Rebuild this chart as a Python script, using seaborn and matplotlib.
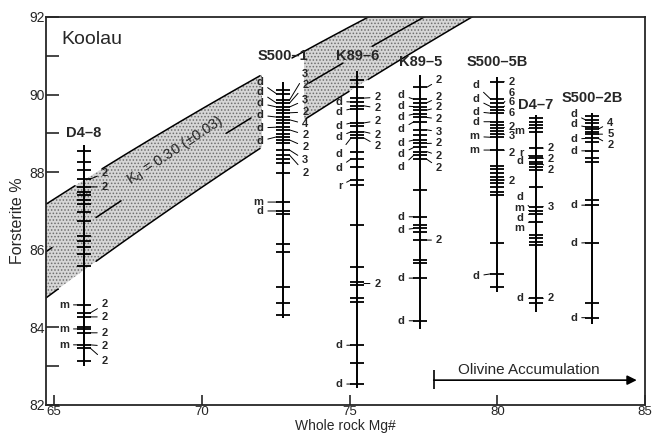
import numpy as np
import pandas as pd
import seaborn as sns
import matplotlib.pyplot as plt
from matplotlib.ticker import MultipleLocator

sns.set_style('ticks')
plt.rcParams['font.family'] = ['Liberation Sans', 'DejaVu Sans']
plt.rcParams['hatch.linewidth'] = 0.7

# olivine-melt equilibrium band
kd_values = [0.27, 0.30, 0.33]

# samples: name, whole rock Mg#, extent of the vertical bar
col_names = ['D4–8', 'S500–1', 'K89–6', 'K89–5', 'S500–5B', 'D4–7', 'S500–2B']
col_mg = [66.0, 72.75, 75.27, 77.4, 80.0, 81.3, 83.2]
col_top = [88.7, 90.33, 90.6, 90.5, 90.45, 89.47, 89.53]
col_bottom = [83.0, 84.24, 82.45, 83.95, 84.9, 84.4, 84.08]
title_fo = [89.0, 91.0, 91.0, 90.85, 90.85, 89.73, 89.92]

# olivine forsterite contents
d48_fo = [88.55, 88.26, 88.06, 87.82, 87.62, 87.49, 87.41, 87.28, 87.18, 86.97, 86.74,
          86.36, 86.23, 86.07, 85.89, 85.58, 84.58, 84.37, 84.27, 84.01, 83.96, 83.86,
          83.55, 83.47, 83.14]
s5001_fo = [90.12, 90.02, 89.86, 89.78, 89.68, 89.60, 89.53, 89.42, 89.35, 89.27, 89.16,
            89.09, 88.98, 88.91, 88.83, 88.75, 88.57, 88.44, 88.34, 88.24, 87.98, 87.23,
            87.0, 86.92, 86.15, 85.94, 85.04, 84.63, 84.32]
k896_fo = [90.38, 90.2, 89.91, 89.81, 89.71, 89.63, 89.27, 89.19, 89.04, 88.96, 88.88,
           88.52, 88.34, 88.13, 87.80, 87.67, 86.64, 85.56, 85.17, 85.09, 84.76, 84.65,
           83.54, 83.08, 82.54]
k895_fo = [90.19, 89.88, 89.79, 89.69, 89.60, 89.50, 89.41, 89.30, 89.09, 88.96, 88.83,
           88.74, 88.64, 88.53, 88.44, 88.33, 87.54, 86.85, 86.64, 86.55, 86.47, 86.25,
           85.74, 85.67, 85.27, 84.17]
s5005b_fo = [90.33, 89.88, 89.79, 89.69, 89.59, 89.52, 89.30, 89.22, 89.15, 89.07, 88.98,
             88.90, 88.57, 88.16, 88.07, 87.97, 87.88, 87.80, 87.71, 87.63, 87.50, 87.41,
             86.18, 85.38, 85.05]
d47_fo = [89.39, 89.30, 89.22, 89.13, 89.04, 88.62, 88.42, 88.36, 88.27, 88.21, 88.14,
          88.06, 87.63, 87.11, 87.01, 86.92, 86.72, 86.38, 86.30, 86.21, 86.12, 84.75, 84.62]
s5002b_fo = [89.45, 89.35, 89.26, 89.17, 89.11, 89.04, 88.98, 88.87, 88.79, 88.55, 88.36,
             88.27, 87.28, 87.15, 86.18, 84.62, 84.25]
col_fo = [d48_fo, s5001_fo, k896_fo, k895_fo, s5005b_fo, d47_fo, s5002b_fo]

# labels: (tick Fo, label Fo, text)
d48_left = [(84.58, 84.58, 'm'), (83.96, 83.96, 'm'), (83.55, 83.55, 'm')]
d48_right = [(87.82, 87.98, '2'), (87.62, 87.62, '2'), (84.37, 84.6, '2'), (84.27, 84.27, '2'),
             (83.86, 83.86, '2'), (83.55, 83.52, '2'), (83.47, 83.13, '2')]
s5001_left = [(90.02, 90.32, 'd'), (89.78, 90.07, 'd'), (89.68, 89.78, 'd'), (89.42, 89.47, 'd'),
              (89.16, 89.14, 'd'), (88.91, 88.80, 'd'), (87.23, 87.23, 'm'), (87.0, 87.0, 'd')]
s5001_right = [(89.86, 90.53, '3'), (89.78, 90.25, '2'), (89.68, 89.86, '3'), (89.53, 89.55, '2'),
               (89.35, 89.24, '4'), (89.09, 88.96, '2'), (88.83, 88.65, '2'), (88.57, 88.31, '3'),
               (88.44, 87.98, '2')]
k896_left = [(89.81, 89.82, 'd'), (89.63, 89.56, 'd'), (89.27, 89.19, 'd'), (89.04, 88.91, 'd'),
             (88.88, 88.47, 'd'), (88.34, 88.11, 'd'), (87.80, 87.65, 'r'), (83.54, 83.54, 'd'),
             (82.54, 82.54, 'd')]
k896_right = [(89.91, 89.93, '2'), (89.71, 89.65, '2'), (89.27, 89.33, '2'), (89.04, 88.96, '2'),
              (88.88, 88.68, '2'), (85.13, 85.13, '2')]
k895_left = [(89.88, 89.99, 'd'), (89.69, 89.71, 'd'), (89.50, 89.42, 'd'), (89.30, 89.11, 'd'),
             (88.83, 88.75, 'd'), (88.64, 88.47, 'd'), (88.44, 88.13, 'd'), (86.85, 86.85, 'd'),
             (86.55, 86.51, 'd'), (85.27, 85.27, 'd'), (84.17, 84.17, 'd')]
k895_right = [(90.19, 90.38, '2'), (89.79, 89.94, '2'), (89.60, 89.68, '2'), (89.41, 89.37, '2'),
              (89.09, 89.04, '3'), (88.74, 88.75, '2'), (88.53, 88.42, '2'), (88.33, 88.11, '2'),
              (86.25, 86.25, '2')]
s5005b_left = [(89.88, 90.25, 'd'), (89.69, 89.88, 'd'), (89.52, 89.56, 'd'), (89.30, 89.30, 'd'),
               (88.90, 88.92, 'm'), (88.57, 88.57, 'm'), (85.38, 85.32, 'd')]
s5005b_right = [(90.33, 90.33, '2'), (89.79, 90.04, '6'), (89.69, 89.82, '6'), (89.59, 89.53, '6'),
                (89.15, 89.17, '2'), (88.98, 88.92, '3'), (88.57, 88.50, '2'), (87.80, 87.76, '2')]
d47_left = [(89.13, 89.05, 'm'), (88.42, 88.50, 'r'), (88.36, 88.28, 'd'), (87.11, 87.37, 'd'),
            (87.01, 87.08, 'm'), (86.92, 86.82, 'd'), (86.72, 86.55, 'm'), (84.75, 84.75, 'd')]
d47_right = [(88.62, 88.62, '2'), (88.36, 88.34, '2'), (88.21, 88.06, '2'), (87.11, 87.11, '3'),
             (84.75, 84.75, '2')]
s5002b_left = [(89.35, 89.50, 'd'), (89.17, 89.23, 'd'), (88.87, 88.85, 'd'), (88.55, 88.55, 'd'),
               (87.15, 87.15, 'd'), (86.18, 86.17, 'd'), (84.25, 84.25, 'd')]
s5002b_right = [(89.11, 89.28, '4'), (88.98, 88.98, '5'), (88.87, 88.70, '2')]
col_left = [d48_left, s5001_left, k896_left, k895_left, s5005b_left, d47_left, s5002b_left]
col_right = [d48_right, s5001_right, k896_right, k895_right, s5005b_right, d47_right, s5002b_right]

# layout
left_x = [65.5, 72.08, 74.75, 76.86, 79.39, 80.9, 82.7]
right_x = [66.62, 73.4, 75.85, 77.93, 80.4, 81.72, 83.72]
half = 0.22
band_gaps = [[(65.72, 66.62), (72.0, 73.05)],
             [(64.95, 66.4), (67.3, 70.8), (71.7, 73.6), (74.8, 75.75)],
             [(65.15, 66.4), (72.0, 73.5), (75.0, 75.6)]]


def fo_eq(mg, kd):
    return 100.0 / (1.0 + kd * (100.0 - mg) / mg)


fig = plt.figure(figsize=(6.52, 4.33), dpi=100)
ax = fig.add_axes([0.0706, 0.0647, 0.9187, 0.8961])
ax.set_xlim(64.73, 85.0)
ax.set_ylim(82, 92)

# Kd band
mg_grid = np.linspace(64.73, 85.0, 600)
ax.fill_between(mg_grid, fo_eq(mg_grid, kd_values[2]), fo_eq(mg_grid, kd_values[0]),
                facecolor='#d6d6d6', edgecolor='#6e6e6e', hatch='.....', linewidth=0, zorder=1)
for kd, gaps in zip(kd_values, band_gaps):
    y = fo_eq(mg_grid, kd)
    for a, b in gaps:
        y[(mg_grid > a) & (mg_grid < b)] = np.nan
    ax.plot(mg_grid, y, color='black', lw=1.1, zorder=2)
# white out behind the S500-1 labels
ax.fill_between([72.05, 73.45], 88.45, 91.4, color='white', lw=0, zorder=1.5)

ax.text(69.1, 88.57, r'K$_\mathregular{d}$ = 0.30 (±0.03)', rotation=33.5, fontsize=10.5,
        ha='center', va='center', rotation_mode='anchor', zorder=3)

# sample columns
ax.vlines(col_mg, col_bottom, col_top, color='black', lw=1.4, zorder=3)
rows = []
for name, mg, fos in zip(col_names, col_mg, col_fo):
    for f in fos:
        rows.append((name, mg, f))
ticks_df = pd.DataFrame(rows, columns=['sample', 'mg', 'fo'])
sns.scatterplot(data=ticks_df, x='mg', y='fo', marker='_', s=88, color='black',
                linewidth=1.3, legend=False, ax=ax, zorder=4)

lead = dict(arrowstyle='-', color='black', lw=0.7, shrinkA=1, shrinkB=0)
for i, mg in enumerate(col_mg):
    ax.text(mg, title_fo[i], col_names[i], ha='center', va='center', fontsize=10.5,
            fontweight='bold', zorder=5)
    for tick, pos, lab in col_left[i]:
        ax.annotate(lab, xy=(mg - half, tick), xytext=(left_x[i], pos), ha='right',
                    va='center', fontsize=8, fontweight='bold', arrowprops=lead, zorder=5)
    for tick, pos, lab in col_right[i]:
        ax.annotate(lab, xy=(mg + half, tick), xytext=(right_x[i], pos), ha='left',
                    va='center', fontsize=8, fontweight='bold', arrowprops=lead, zorder=5)

ax.text(65.24, 91.42, 'Koolau', fontsize=14, ha='left', va='center')

# olivine accumulation arrow
ax.annotate('', xy=(84.72, 82.64), xytext=(77.85, 82.64),
            arrowprops=dict(arrowstyle='-|>', color='black', lw=1.2, mutation_scale=14,
                            shrinkA=0, shrinkB=0))
ax.vlines(77.85, 82.4, 82.9, color='black', lw=1.2)
ax.text(81.08, 82.9, 'Olivine Accumulation', fontsize=11, ha='center', va='center')

# axes
ax.set_xticks([65, 70, 75, 80, 85])
ax.yaxis.set_major_locator(MultipleLocator(2))
ax.yaxis.set_minor_locator(MultipleLocator(1))
ax.tick_params(axis='both', which='both', direction='in', width=1.2, labelsize=10, pad=1)
ax.tick_params(axis='x', which='both', labelsize=9.5, pad=0.5)
ax.tick_params(axis='y', which='both', length=9)
ax.tick_params(axis='x', which='both', length=7)
for s in ax.spines.values():
    s.set_linewidth(1.3)
ax.set_xlabel('Whole rock Mg#', fontsize=10)
ax.set_ylabel('Forsterite %', fontsize=11.5)
ax.xaxis.set_label_coords(0.5, -0.036)
ax.yaxis.set_label_coords(-0.035, 0.474)

fig.savefig('out.png', dpi=100)
